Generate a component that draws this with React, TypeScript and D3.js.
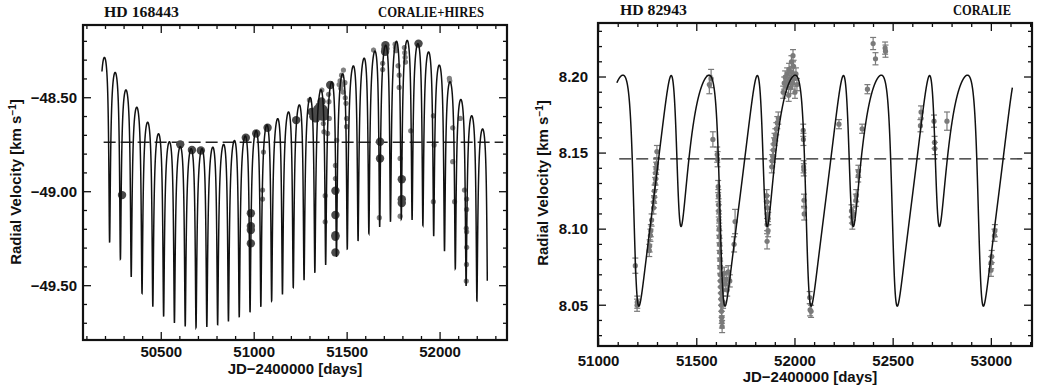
import React from "react";
import * as d3 from "d3";

// ---------------- Left panel: HD 168443 ----------------
const leftTitle = "HD 168443";
const leftInstrument = "CORALIE+HIRES";
const leftXDomain = [50079, 52360];
const leftYDomain = [-49.789, -48.113];
const leftXMajor = [50500, 51000, 51500, 52000];
const leftXMinorStep = 100;
const leftYMajor = [-48.5, -49.0, -49.5];
const leftYMinorStep = 0.1;
const leftGamma = -48.737;
const leftDashRange = [50190, 52340];
const leftCurveRange = [50181, 52254];
// Keplerian orbital elements read for the fitted model curve
const leftOrbits = [
  { P: 58.116, T: 50047.5, e: 0.529, w: 172.9, K: 0.4751 },
  { P: 1770, T: 50250, e: 0.228, w: 64.9, K: 0.289 },
];
// dark large symbols [JD, RV]
const leftDark: [number, number][] = [
  [50289, -49.018], [50602, -48.748], [50665, -48.778], [50713, -48.781],
  [50955, -48.713], [51011, -48.69], [51072, -48.66],
  [50982, -49.115], [50982, -49.183], [50982, -49.204], [50982, -49.275],
  [51226, -48.619],
  [51310, -48.575], [51318, -48.6], [51325, -48.59], [51332, -48.61], [51340, -48.56],
  [51346, -48.595], [51352, -48.545], [51357, -48.58], [51362, -48.52], [51366, -48.6],
  [51371, -48.56], [51376, -48.6], [51380, -48.575],
  [51409, -48.432],
  [51437, -48.995], [51437, -49.124], [51437, -49.231], [51437, -49.24], [51437, -49.323],
  [51677, -48.734], [51677, -48.823],
  [51706, -48.22], [51706, -48.24], [51704, -48.255],
  [51794, -48.934], [51794, -49.04], [51794, -49.06],
  [51884, -48.212],
];
// light small symbols [JD, RV]
const leftLight: [number, number][] = [
  [51050, -48.789], [51045, -48.991], [51045, -49.039],
  [51297, -48.512],
  [51364, -48.459], [51372, -48.637], [51375, -48.681],
  [51382, -49.021], [51382, -49.16],
  [51400, -48.482], [51402, -48.521], [51395, -48.69], [51404, -48.61],
  [51444, -48.727], [51437, -48.86], [51437, -48.93],
  [51457, -48.43], [51462, -48.41], [51466, -48.45], [51470, -48.38], [51474, -48.43],
  [51478, -48.47], [51480, -48.353], [51488, -48.42], [51490, -48.5], [51494, -48.53],
  [51497, -48.61], [51497, -48.654],
  [51642, -48.246],
  [51673, -49.138],
  [51691, -48.317], [51691, -48.35],
  [51758, -48.215], [51760, -48.232], [51762, -48.25],
  [51774, -48.33], [51780, -48.38], [51780, -48.445],
  [51785, -48.823], [51785, -49.13],
  [51808, -48.233], [51810, -48.26], [51812, -48.285], [51814, -48.31],
  [51842, -48.676],
  [51964, -48.596], [51968, -48.752], [51964, -49.053],
  [52050, -48.397], [52052, -48.41],
  [52068, -48.66], [52068, -48.84], [52078, -49.053],
  [52108, -48.61],
  [52131, -48.991], [52143, -49.039], [52143, -49.094], [52141, -49.195], [52143, -49.213],
  [52143, -49.296], [52142, -49.387], [52141, -49.475],
];

// ---------------- Right panel: HD 82943 ----------------
const rightTitle = "HD 82943";
const rightInstrument = "CORALIE";
const rightXDomain = [50997, 53207];
const rightYDomain = [8.0232, 8.2355];
const rightXMajor = [51000, 51500, 52000, 52500, 53000];
const rightXMinorStep = 100;
const rightYMajor = [8.05, 8.1, 8.15, 8.2];
const rightYMinorStep = 0.01;
const rightGamma = 8.1462;
const rightDashRange = [51105, 53165];
const rightCurveRange = [51093, 53107];
const rightOrbits = [
  { P: 219.3, T: 52279.5, e: 0.38, w: 111, K: 0.06215 },
  { P: 438.6, T: 51470, e: 0.05, w: 0, K: 0.034 },
];
// [JD, RV, error]
const rightData: [number, number, number][] = [
  [51187, 8.076, 0.005], [51196, 8.05, 0.004], [51197, 8.052, 0.004],
  [51258, 8.086, 0.004], [51260, 8.089, 0.004], [51264, 8.096, 0.004], [51266, 8.099, 0.004],
  [51270, 8.106, 0.004], [51280, 8.114, 0.004], [51282, 8.118, 0.004], [51283, 8.121, 0.004],
  [51285, 8.125, 0.004], [51288, 8.13, 0.004], [51290, 8.133, 0.004], [51291, 8.137, 0.004],
  [51293, 8.14, 0.004], [51295, 8.143, 0.004], [51297, 8.151, 0.004],
  [51564, 8.195, 0.006], [51573, 8.199, 0.006], [51582, 8.159, 0.005],
  [51604, 8.149, 0.005], [51606, 8.146, 0.005],
  [51609, 8.128, 0.004], [51610, 8.122, 0.004], [51611, 8.116, 0.004], [51612, 8.112, 0.004],
  [51613, 8.106, 0.004], [51614, 8.1, 0.004], [51615, 8.095, 0.004], [51616, 8.09, 0.004],
  [51617, 8.085, 0.004], [51618, 8.08, 0.004], [51619, 8.075, 0.004], [51620, 8.07, 0.004],
  [51621, 8.066, 0.004], [51622, 8.062, 0.004], [51623, 8.058, 0.004], [51624, 8.054, 0.004],
  [51625, 8.05, 0.004], [51626, 8.046, 0.004], [51627, 8.042, 0.004], [51628, 8.039, 0.004],
  [51629, 8.036, 0.004], [51632, 8.06, 0.004], [51634, 8.052, 0.004], [51636, 8.067, 0.004],
  [51640, 8.071, 0.004], [51645, 8.064, 0.004], [51650, 8.067, 0.004], [51655, 8.06, 0.004],
  [51660, 8.072, 0.004], [51668, 8.066, 0.004],
  [51690, 8.09, 0.005], [51695, 8.105, 0.008],
  [51856, 8.122, 0.004], [51858, 8.118, 0.004], [51860, 8.114, 0.004], [51862, 8.109, 0.004],
  [51864, 8.107, 0.004], [51858, 8.103, 0.004], [51863, 8.099, 0.004], [51858, 8.092, 0.005],
  [51882, 8.141, 0.004], [51884, 8.145, 0.004], [51887, 8.148, 0.004], [51890, 8.152, 0.004],
  [51893, 8.156, 0.004], [51896, 8.159, 0.004], [51900, 8.162, 0.004], [51905, 8.166, 0.004],
  [51910, 8.17, 0.004], [51915, 8.173, 0.004],
  [51940, 8.19, 0.004], [51945, 8.196, 0.004], [51950, 8.2, 0.004], [51955, 8.194, 0.004],
  [51960, 8.202, 0.004], [51965, 8.197, 0.004], [51968, 8.188, 0.004], [51970, 8.205, 0.004],
  [51975, 8.199, 0.004], [51978, 8.193, 0.004], [51982, 8.21, 0.004], [51985, 8.203, 0.004],
  [51988, 8.196, 0.004], [51990, 8.214, 0.004], [51993, 8.207, 0.004], [51996, 8.199, 0.004],
  [52000, 8.19, 0.004], [52005, 8.202, 0.004], [52010, 8.195, 0.004],
  [52042, 8.165, 0.004], [52043, 8.159, 0.004], [52044, 8.141, 0.004], [52045, 8.139, 0.004],
  [52046, 8.119, 0.004], [52047, 8.11, 0.004],
  [52075, 8.055, 0.004], [52077, 8.047, 0.004], [52082, 8.046, 0.004],
  [52224, 8.169, 0.003],
  [52288, 8.112, 0.004], [52290, 8.108, 0.004], [52292, 8.104, 0.004], [52295, 8.11, 0.004],
  [52310, 8.119, 0.004], [52312, 8.122, 0.004], [52322, 8.135, 0.004], [52323, 8.138, 0.004],
  [52342, 8.166, 0.003], [52369, 8.192, 0.003],
  [52398, 8.222, 0.004], [52410, 8.212, 0.004], [52459, 8.219, 0.004], [52461, 8.217, 0.004],
  [52639, 8.168, 0.004], [52642, 8.177, 0.004],
  [52708, 8.171, 0.004], [52711, 8.157, 0.004], [52712, 8.153, 0.004],
  [52774, 8.171, 0.006],
  [52998, 8.073, 0.004], [52999, 8.078, 0.004], [53002, 8.082, 0.004],
  [53016, 8.096, 0.004], [53018, 8.099, 0.004],
];

type Orbit = { P: number; T: number; e: number; w: number; K: number };

function keplerRV(t: number, o: Orbit): number {
  const M = (2 * Math.PI * (t - o.T)) / o.P;
  let E = M + o.e * Math.sin(M);
  for (let i = 0; i < 40; i++) {
    const f = E - o.e * Math.sin(E) - M;
    E -= f / (1 - o.e * Math.cos(E));
  }
  const nu = 2 * Math.atan2(Math.sqrt(1 + o.e) * Math.sin(E / 2), Math.sqrt(1 - o.e) * Math.cos(E / 2));
  const w = (o.w * Math.PI) / 180;
  return o.K * (Math.cos(nu + w) + o.e * Math.cos(w));
}

const SANS = "'Liberation Sans', Arial, sans-serif";
const SERIF = "'Liberation Serif', 'Times New Roman', serif";

type PanelProps = {
  frame: { x0: number; x1: number; y0: number; y1: number };
  xDomain: number[];
  yDomain: number[];
  xMajor: number[];
  xMinorStep: number;
  yMajor: number[];
  yMinorStep: number;
  yFmt: (v: number) => string;
  gamma: number;
  dashRange: number[];
  curveRange: number[];
  orbits: Orbit[];
  title: string;
  instrument: string;
  titleX: [number, number];
  instX: [number, number];
  titleBase: number;
  xTickBase: number;
  xLabelBase: number;
  xLabelX: number;
  yLabelX: number;
  yLabelY: number;
  yTickRight: number;
  children?: (x: d3.ScaleLinear<number, number>, y: d3.ScaleLinear<number, number>) => React.ReactNode;
};

function Panel(p: PanelProps) {
  const { frame } = p;
  const x = d3.scaleLinear().domain(p.xDomain).range([frame.x0, frame.x1]);
  const y = d3.scaleLinear().domain(p.yDomain).range([frame.y1, frame.y0]);
  const curve = d3.range(p.curveRange[0], p.curveRange[1], 0.2).concat([p.curveRange[1]]);
  const line = d3
    .line<number>()
    .x((t) => x(t))
    .y((t) => y(p.gamma + p.orbits.reduce((s, o) => s + keplerRV(t, o), 0)));
  const xMinor = d3
    .range(Math.ceil(p.xDomain[0] / p.xMinorStep) * p.xMinorStep, p.xDomain[1], p.xMinorStep)
    .filter((v) => !p.xMajor.some((m) => Math.abs(m - v) < 1e-6));
  const yMinor = d3
    .range(Math.ceil(p.yDomain[0] / p.yMinorStep - 1e-6), Math.floor(p.yDomain[1] / p.yMinorStep + 1e-6) + 1)
    .map((k) => k * p.yMinorStep)
    .filter((v) => v >= p.yDomain[0] && v <= p.yDomain[1] && !p.yMajor.some((m) => Math.abs(m - v) < 1e-6));
  const MJ = 8;
  const MN = 4;
  return (
    <g>
      <text x={p.titleX[0]} y={p.titleBase} fontFamily={SERIF} fontWeight="bold" fontSize={14}
        textLength={p.titleX[1] - p.titleX[0]} lengthAdjust="spacingAndGlyphs" fill="#111">{p.title}</text>
      <text x={p.instX[0]} y={p.titleBase} fontFamily={SERIF} fontWeight="bold" fontSize={14}
        textLength={p.instX[1] - p.instX[0]} lengthAdjust="spacingAndGlyphs" fill="#111">{p.instrument}</text>
      <defs>
        <clipPath id={"clip" + frame.x0}>
          <rect x={frame.x0} y={frame.y0} width={frame.x1 - frame.x0} height={frame.y1 - frame.y0} />
        </clipPath>
      </defs>
      <g clipPath={`url(#clip${frame.x0})`}>
        <line x1={x(p.dashRange[0])} x2={x(p.dashRange[1])} y1={y(p.gamma)} y2={y(p.gamma)}
          stroke="#222" strokeWidth={1.4} strokeDasharray="12,5" />
        {p.children && p.children(x, y)}
        <path d={line(curve) || ""} fill="none" stroke="#111" strokeWidth={1.5} />
      </g>
      {p.xMajor.map((v) => (
        <g key={"xM" + v}>
          <line x1={x(v)} x2={x(v)} y1={frame.y1} y2={frame.y1 - MJ} stroke="#111" strokeWidth={1.3} />
          <line x1={x(v)} x2={x(v)} y1={frame.y0} y2={frame.y0 + MJ} stroke="#111" strokeWidth={1.3} />
          <text x={x(v)} y={p.xTickBase} textAnchor="middle" fontFamily={SANS} fontWeight="bold" fontSize={15} fill="#111">{v}</text>
        </g>
      ))}
      {xMinor.map((v) => (
        <g key={"xm" + v}>
          <line x1={x(v)} x2={x(v)} y1={frame.y1} y2={frame.y1 - MN} stroke="#111" strokeWidth={1.3} />
          <line x1={x(v)} x2={x(v)} y1={frame.y0} y2={frame.y0 + MN} stroke="#111" strokeWidth={1.3} />
        </g>
      ))}
      {p.yMajor.map((v) => (
        <g key={"yM" + v}>
          <line x1={frame.x0} x2={frame.x0 + MJ} y1={y(v)} y2={y(v)} stroke="#111" strokeWidth={1.3} />
          <line x1={frame.x1} x2={frame.x1 - MJ} y1={y(v)} y2={y(v)} stroke="#111" strokeWidth={1.3} />
          <text x={p.yTickRight} y={y(v) + 5.3} textAnchor="end" fontFamily={SANS} fontWeight="bold" fontSize={15} fill="#111">{p.yFmt(v)}</text>
        </g>
      ))}
      {yMinor.map((v) => (
        <g key={"ym" + v}>
          <line x1={frame.x0} x2={frame.x0 + MN} y1={y(v)} y2={y(v)} stroke="#111" strokeWidth={1.3} />
          <line x1={frame.x1} x2={frame.x1 - MN} y1={y(v)} y2={y(v)} stroke="#111" strokeWidth={1.3} />
        </g>
      ))}
      <rect x={frame.x0} y={frame.y0} width={frame.x1 - frame.x0} height={frame.y1 - frame.y0}
        fill="none" stroke="#111" strokeWidth={2.2} />
      <text x={p.xLabelX} y={p.xLabelBase} textAnchor="middle" fontFamily={SANS} fontWeight="bold" fontSize={15} fill="#111">
        JD−2400000 [days]
      </text>
      <text transform={`translate(${p.yLabelX},${p.yLabelY}) rotate(-90)`} textAnchor="middle"
        fontFamily={SANS} fontWeight="bold" fontSize={15} fill="#111">
        Radial Velocity [km s<tspan dy={-5} fontSize={10}>−1</tspan><tspan dy={5}>]</tspan>
      </text>
    </g>
  );
}

const fmtLeft = (v: number) => (v < 0 ? "−" : "") + Math.abs(v).toFixed(2);
const fmtRight = (v: number) => v.toFixed(2);

export default function App() {
  return (
    <svg width={1037} height={386} style={{ position: "absolute", left: 0, top: 0, background: "#fff" }}>
      <Panel
        frame={{ x0: 83, x1: 507, y0: 25, y1: 340 }}
        xDomain={leftXDomain} yDomain={leftYDomain}
        xMajor={leftXMajor} xMinorStep={leftXMinorStep}
        yMajor={leftYMajor} yMinorStep={leftYMinorStep} yFmt={fmtLeft}
        gamma={leftGamma} dashRange={leftDashRange} curveRange={leftCurveRange} orbits={leftOrbits}
        title={leftTitle} instrument={leftInstrument}
        titleX={[104, 179]} instX={[378, 484]} titleBase={17}
        xTickBase={357} xLabelBase={374} xLabelX={295}
        yLabelX={21} yLabelY={182} yTickRight={77}
      >
        {(x, y) => (
          <g>
            {leftLight.map((d, i) => (
              <g key={"l" + i}>
                <line x1={x(d[0])} x2={x(d[0])} y1={y(d[1] + 0.012)} y2={y(d[1] - 0.012)} stroke="#808080" strokeWidth={1.2} />
                <circle cx={x(d[0])} cy={y(d[1])} r={2.6} fill="#808080" />
              </g>
            ))}
            {leftDark.map((d, i) => (
              <circle key={"d" + i} cx={x(d[0])} cy={y(d[1])} r={4.2} fill="#4a4a4a" />
            ))}
          </g>
        )}
      </Panel>
      <Panel
        frame={{ x0: 598, x1: 1032, y0: 23, y1: 346 }}
        xDomain={rightXDomain} yDomain={rightYDomain}
        xMajor={rightXMajor} xMinorStep={rightXMinorStep}
        yMajor={rightYMajor} yMinorStep={rightYMinorStep} yFmt={fmtRight}
        gamma={rightGamma} dashRange={rightDashRange} curveRange={rightCurveRange} orbits={rightOrbits}
        title={rightTitle} instrument={rightInstrument}
        titleX={[620, 687]} instX={[953, 1011]} titleBase={15}
        xTickBase={366} xLabelBase={382} xLabelX={810}
        yLabelX={548} yLabelY={183} yTickRight={588}
      >
        {(x, y) => (
          <g>
            {rightData.map((d, i) => (
              <g key={"r" + i} stroke="#7a7a7a" strokeWidth={1.2}>
                <line x1={x(d[0])} x2={x(d[0])} y1={y(d[1] + d[2])} y2={y(d[1] - d[2])} />
                <line x1={x(d[0]) - 3} x2={x(d[0]) + 3} y1={y(d[1] + d[2])} y2={y(d[1] + d[2])} />
                <line x1={x(d[0]) - 3} x2={x(d[0]) + 3} y1={y(d[1] - d[2])} y2={y(d[1] - d[2])} />
                <circle cx={x(d[0])} cy={y(d[1])} r={2.6} fill="#7a7a7a" stroke="none" />
              </g>
            ))}
          </g>
        )}
      </Panel>
    </svg>
  );
}
